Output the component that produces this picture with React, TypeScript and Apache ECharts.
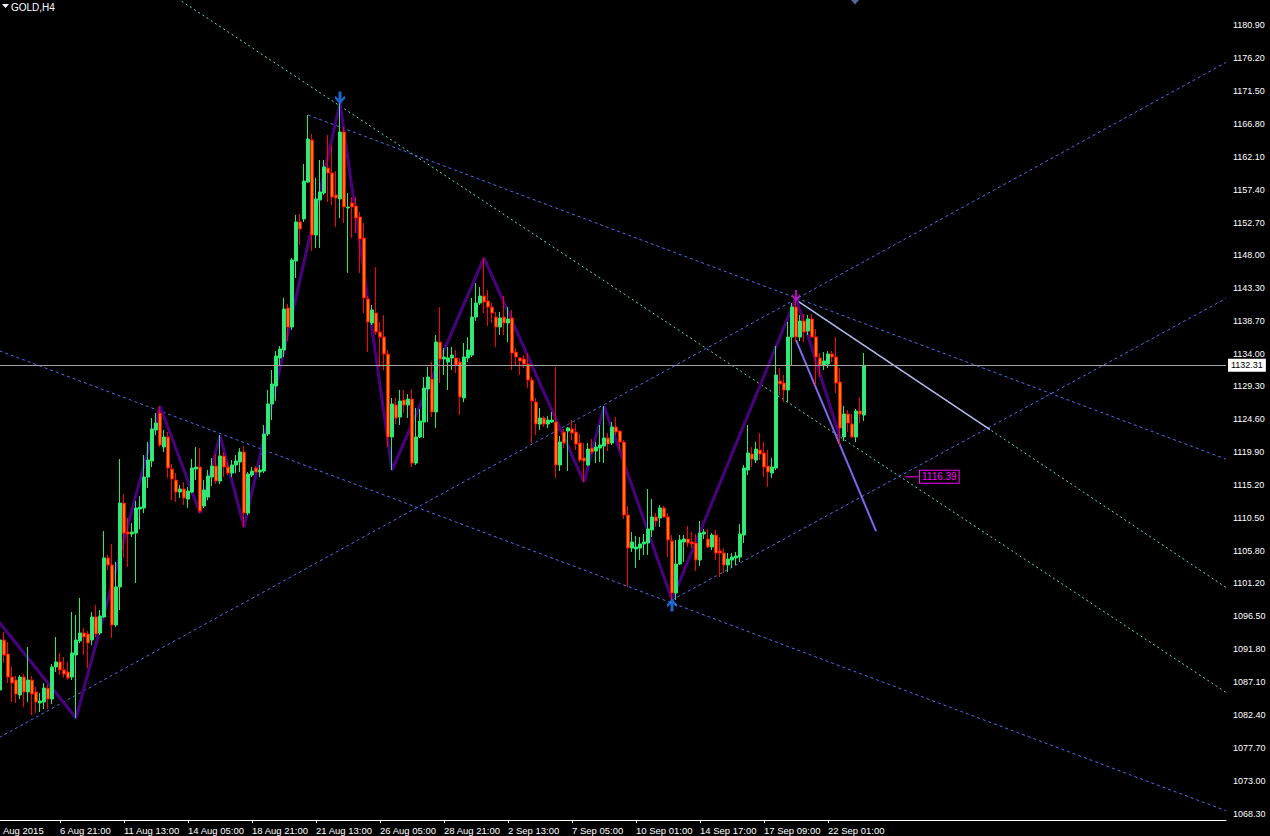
import React, { useEffect, useRef } from "react";
import * as echarts from "echarts";

// ---------- DATA (GOLD, H4) ----------
const opens = [
  1095.24, 1085.96, 1093.10, 1091.10, 1087.81, 1087.39, 1085.25, 1087.81, 1085.67, 1087.39,
  1085.67, 1084.10, 1084.24, 1086.24, 1084.67, 1089.24, 1089.96, 1088.81, 1088.53, 1087.81,
  1090.96, 1092.96, 1094.10, 1093.96, 1093.10, 1096.38, 1094.10, 1096.38, 1104.81, 1103.81,
  1095.24, 1100.67, 1112.65, 1108.51, 1108.23, 1108.37, 1111.79, 1111.94, 1116.36, 1118.65,
  1123.08, 1125.50, 1120.65, 1122.08, 1117.51, 1115.93, 1114.22, 1114.65, 1113.22, 1114.22,
  1117.51, 1117.79, 1112.22, 1113.51, 1116.36, 1117.93, 1115.79, 1119.36, 1117.79, 1116.93,
  1118.08, 1118.51, 1119.93, 1111.22, 1116.65, 1117.65, 1117.08, 1117.22, 1122.50, 1126.79,
  1129.36, 1133.36, 1134.50, 1140.50, 1137.78, 1147.21, 1152.78, 1153.21, 1158.48, 1164.48,
  1150.92, 1155.92, 1156.92, 1160.48, 1159.77, 1156.63, 1156.06, 1165.62, 1154.78, 1155.49,
  1155.06, 1153.49, 1150.49, 1141.78, 1138.36, 1139.78, 1137.07, 1136.35, 1133.93, 1122.08,
  1126.65, 1124.93, 1127.36, 1126.65, 1127.50, 1118.36, 1122.08, 1124.22, 1128.93, 1130.36,
  1125.65, 1135.64, 1133.21, 1132.78, 1133.36, 1133.36, 1132.78, 1127.65, 1133.36, 1133.78,
  1139.21, 1141.21, 1142.21, 1141.50, 1140.64, 1139.21, 1137.78, 1139.21, 1138.36, 1139.07,
  1134.21, 1133.36, 1133.21, 1132.50, 1130.21, 1127.07, 1123.93, 1124.79, 1123.93, 1124.22,
  1124.22, 1118.08, 1122.79, 1122.93, 1123.22, 1122.79, 1121.22, 1119.08, 1118.08, 1120.50,
  1120.07, 1120.50, 1120.79, 1121.93, 1121.22, 1123.50, 1122.93, 1121.36, 1110.94, 1106.23,
  1106.09, 1106.23, 1106.81, 1106.95, 1108.80, 1110.66, 1110.52, 1111.94, 1110.66, 1107.23,
  1099.81, 1103.95, 1107.09, 1107.52, 1107.09, 1106.95, 1104.52, 1108.23, 1107.52, 1106.38,
  1108.09, 1105.81, 1105.52, 1103.81, 1104.52, 1104.81, 1104.95, 1108.09, 1117.36, 1119.65,
  1118.79, 1120.22, 1119.79, 1117.93, 1116.93, 1117.65, 1130.07, 1129.79, 1128.79, 1136.35,
  1140.64, 1136.35, 1138.64, 1137.21, 1138.93, 1136.35, 1133.36, 1132.35, 1132.50, 1133.93,
  1133.50, 1129.93, 1122.08, 1125.36, 1123.93, 1122.08, 1125.79, 1125.22,
];
const highs = [
  1096.24, 1094.53, 1094.24, 1092.81, 1089.24, 1087.96, 1088.10, 1088.24, 1092.10, 1087.96,
  1086.39, 1085.53, 1086.96, 1086.67, 1089.67, 1093.53, 1091.24, 1090.67, 1089.96, 1097.10,
  1096.67, 1099.10, 1094.81, 1094.38, 1097.10, 1098.10, 1097.38, 1108.66, 1105.24, 1106.81,
  1104.24, 1118.93, 1113.94, 1110.51, 1109.79, 1112.94, 1113.65, 1119.51, 1121.36, 1124.79,
  1125.50, 1126.50, 1123.08, 1122.79, 1118.22, 1116.93, 1115.22, 1115.65, 1114.94, 1118.93,
  1120.65, 1120.50, 1115.93, 1117.36, 1119.08, 1119.65, 1122.36, 1119.93, 1118.51, 1118.79,
  1119.51, 1120.50, 1120.79, 1117.08, 1117.79, 1117.93, 1118.08, 1123.79, 1128.79, 1131.65,
  1134.35, 1135.07, 1141.93, 1141.07, 1147.64, 1153.78, 1153.92, 1161.05, 1168.05, 1165.34,
  1159.06, 1161.63, 1161.63, 1165.19, 1163.77, 1160.06, 1169.76, 1166.33, 1156.92, 1156.35,
  1156.35, 1154.20, 1152.63, 1142.21, 1140.93, 1146.35, 1138.50, 1139.50, 1134.50, 1127.65,
  1127.65, 1128.79, 1128.79, 1128.21, 1128.93, 1126.22, 1126.08, 1130.64, 1132.07, 1132.78,
  1136.64, 1140.64, 1134.78, 1134.93, 1134.93, 1134.50, 1133.36, 1135.50, 1136.35, 1141.93,
  1144.07, 1143.50, 1147.64, 1143.07, 1141.21, 1139.93, 1139.93, 1142.21, 1140.64, 1140.21,
  1134.78, 1133.50, 1133.78, 1134.07, 1130.64, 1127.65, 1126.22, 1125.07, 1125.07, 1125.65,
  1132.07, 1122.22, 1123.22, 1123.50, 1124.50, 1123.93, 1122.50, 1121.22, 1121.22, 1121.79,
  1121.36, 1123.79, 1126.50, 1122.65, 1124.22, 1124.93, 1123.08, 1121.64, 1112.23, 1108.51,
  1107.95, 1107.80, 1108.23, 1114.65, 1113.22, 1111.23, 1112.37, 1112.23, 1111.23, 1108.09,
  1107.38, 1108.09, 1108.09, 1109.37, 1108.51, 1108.23, 1110.09, 1108.94, 1108.94, 1108.37,
  1108.80, 1107.80, 1106.23, 1105.52, 1105.52, 1105.66, 1109.66, 1118.08, 1123.79, 1120.65,
  1121.36, 1122.65, 1121.36, 1120.22, 1119.08, 1135.07, 1131.93, 1130.93, 1138.50, 1141.21,
  1141.93, 1139.50, 1139.64, 1139.50, 1139.64, 1137.50, 1134.07, 1134.21, 1134.35, 1134.35,
  1136.35, 1131.93, 1126.50, 1125.93, 1125.36, 1126.07, 1127.79, 1134.07,
];
const lows = [
  1091.67, 1085.67, 1089.81, 1086.96, 1084.24, 1084.10, 1084.67, 1083.53, 1084.24, 1082.39,
  1082.67, 1082.82, 1083.24, 1083.24, 1083.96, 1088.53, 1088.10, 1087.67, 1087.39, 1087.39,
  1081.96, 1092.67, 1090.96, 1089.10, 1092.38, 1093.53, 1093.81, 1096.24, 1103.09, 1093.38,
  1094.95, 1097.38, 1104.81, 1103.52, 1107.80, 1101.24, 1108.94, 1111.22, 1114.79, 1117.79,
  1122.36, 1120.65, 1119.93, 1116.22, 1113.08, 1112.79, 1113.37, 1112.37, 1111.94, 1114.08,
  1115.93, 1111.22, 1111.94, 1113.08, 1115.08, 1115.36, 1115.36, 1116.36, 1116.65, 1116.36,
  1116.93, 1117.08, 1109.22, 1110.94, 1116.36, 1116.93, 1116.36, 1116.93, 1122.22, 1124.50,
  1127.22, 1132.21, 1133.50, 1135.78, 1137.36, 1144.78, 1149.50, 1152.78, 1158.34, 1148.64,
  1149.07, 1149.07, 1156.63, 1155.63, 1155.20, 1152.06, 1153.35, 1152.63, 1145.50, 1150.49,
  1151.21, 1145.50, 1139.78, 1134.21, 1138.07, 1136.64, 1132.07, 1131.64, 1120.65, 1117.36,
  1123.93, 1123.79, 1125.50, 1124.79, 1117.79, 1118.08, 1121.93, 1121.93, 1124.22, 1124.93,
  1123.36, 1129.79, 1130.93, 1128.79, 1131.64, 1131.21, 1125.22, 1127.07, 1132.78, 1133.50,
  1138.64, 1140.93, 1139.78, 1137.92, 1138.36, 1134.93, 1136.64, 1136.64, 1135.64, 1131.64,
  1132.35, 1130.93, 1131.93, 1129.07, 1121.22, 1122.36, 1123.08, 1123.50, 1123.36, 1124.08,
  1116.22, 1117.22, 1120.50, 1117.22, 1121.64, 1120.22, 1118.51, 1115.65, 1117.93, 1119.65,
  1118.36, 1118.51, 1118.36, 1120.07, 1120.93, 1122.36, 1120.22, 1110.37, 1100.67, 1105.66,
  1103.38, 1104.52, 1105.24, 1105.24, 1107.80, 1109.23, 1109.23, 1110.52, 1104.95, 1098.81,
  1098.81, 1103.81, 1104.24, 1106.38, 1106.23, 1102.95, 1103.66, 1107.52, 1106.23, 1105.95,
  1104.52, 1102.09, 1102.66, 1102.81, 1103.38, 1103.81, 1104.24, 1106.95, 1116.65, 1117.79,
  1118.36, 1118.79, 1116.36, 1114.94, 1116.22, 1117.36, 1128.07, 1127.07, 1127.07, 1132.21,
  1135.64, 1135.78, 1135.64, 1136.64, 1136.21, 1129.50, 1130.64, 1131.64, 1131.93, 1132.78,
  1128.36, 1120.93, 1121.50, 1122.79, 1121.93, 1121.36, 1124.08, 1124.36,
];
const closes = [
  1092.38, 1093.10, 1090.96, 1087.81, 1086.96, 1085.39, 1087.81, 1085.67, 1087.39, 1085.39,
  1084.24, 1084.39, 1086.24, 1084.67, 1089.24, 1089.96, 1088.81, 1088.24, 1087.67, 1091.24,
  1093.10, 1094.10, 1093.53, 1092.67, 1096.38, 1093.96, 1096.52, 1104.81, 1103.81, 1095.24,
  1100.67, 1112.65, 1108.37, 1108.23, 1108.51, 1111.94, 1112.08, 1116.36, 1118.79, 1123.22,
  1124.08, 1120.93, 1122.08, 1117.65, 1116.08, 1114.22, 1114.65, 1113.37, 1114.36, 1117.65,
  1117.79, 1111.51, 1114.51, 1116.51, 1117.93, 1115.79, 1119.36, 1117.79, 1116.93, 1118.08,
  1118.65, 1119.93, 1111.22, 1116.79, 1117.22, 1117.08, 1117.36, 1122.50, 1126.79, 1129.65,
  1133.64, 1134.64, 1140.35, 1137.78, 1147.35, 1152.78, 1151.78, 1158.62, 1164.62, 1150.92,
  1156.06, 1157.06, 1160.63, 1159.77, 1156.34, 1156.20, 1165.62, 1154.92, 1154.92, 1154.92,
  1153.35, 1150.35, 1141.93, 1138.50, 1140.21, 1137.07, 1136.35, 1133.93, 1122.08, 1126.79,
  1124.79, 1127.22, 1126.65, 1127.50, 1118.36, 1122.08, 1124.36, 1129.07, 1130.64, 1125.65,
  1135.64, 1133.21, 1133.50, 1133.36, 1133.78, 1132.35, 1127.79, 1133.50, 1134.50, 1139.21,
  1141.21, 1142.21, 1141.35, 1140.64, 1139.78, 1137.78, 1139.07, 1138.36, 1138.93, 1134.07,
  1133.50, 1132.93, 1132.50, 1130.21, 1127.22, 1123.93, 1124.79, 1123.93, 1124.50, 1124.50,
  1118.08, 1121.36, 1121.22, 1123.36, 1122.65, 1121.07, 1118.79, 1118.65, 1120.36, 1119.93,
  1120.65, 1120.93, 1121.93, 1121.07, 1123.50, 1122.79, 1121.36, 1110.94, 1106.23, 1107.09,
  1106.38, 1106.81, 1107.09, 1108.94, 1110.66, 1110.09, 1111.94, 1110.66, 1107.38, 1099.81,
  1103.95, 1107.38, 1107.52, 1106.95, 1106.81, 1104.52, 1108.37, 1108.51, 1106.38, 1108.09,
  1105.52, 1105.52, 1103.81, 1104.66, 1104.95, 1105.09, 1108.23, 1117.65, 1119.79, 1118.93,
  1120.36, 1119.65, 1117.79, 1117.08, 1117.79, 1130.93, 1129.65, 1128.79, 1136.35, 1140.64,
  1136.35, 1138.64, 1137.07, 1138.93, 1136.35, 1133.50, 1132.35, 1132.93, 1133.93, 1133.50,
  1129.79, 1123.36, 1125.36, 1124.08, 1122.08, 1125.79, 1125.36, 1132.31,
];

// price scale tick labels (as shown on the right axis)
const priceTicks = [
  1068.30, 1073.00, 1077.70, 1082.40, 1087.10, 1091.80, 1096.50, 1101.20, 1105.80,
  1110.50, 1115.20, 1119.90, 1124.60, 1129.30, 1134.00, 1138.70, 1143.30, 1148.00,
  1152.70, 1157.40, 1162.10, 1166.80, 1171.50, 1176.20, 1180.90,
];
const priceMin = 1067.40;
const priceMax = 1184.47;
const bidPrice = 1132.31;
const levelPrice = 1116.39;

// ZigZag pivots (bar index, price)
const zigzagIndex = [0, 20, 41, 51, 56, 62, 86, 99, 122, 147, 152, 169, 200, 211];
const zigzagPrice = [1096.2, 1081.96, 1126.5, 1111.22, 1122.36, 1109.22, 1169.76, 1117.36, 1147.64, 1115.65, 1126.5, 1098.81, 1141.93, 1122.0];

// trend line anchors: [bar index, price]
const upperChannel = [[78, 1168.05], [200, 1141.93]]; // ray from first anchor
const lowerChannel = [[1, 1134.36], [169, 1098.38]]; // infinite
const risingLine = [[1, 1079.25], [200, 1141.78]]; // infinite
const risingParallel = [[169, 1098.81], [300, 1139.53]]; // ray
const fanLineA = [[86, 1169.34], [200, 1126.25]]; // infinite
const fanLineB = [[200, 1141.64], [300, 1103.47]]; // ray
const fanSegment = [[200, 1141.64], [248.5, 1123.13]]; // segment
const projection = [[200, 1135.92], [220, 1108.65]]; // segment
const levelMarker = [[227.25, levelPrice], [230.5, levelPrice]];

// arrows
const peakArrowBars = [86];
const troughArrowBars = [169];
const lastPeakArrowBars = [200];
const topMarkerBar = 214.75;

// time axis
const MONTHS = ["Jan", "Feb", "Mar", "Apr", "May", "Jun", "Jul", "Aug", "Sep", "Oct", "Nov", "Dec"];
const BAR_HOURS = [1, 5, 9, 13, 17, 21];
const FIRST_BAR = Date.UTC(2015, 7, 4, 5);
const SKIPPED_BARS = [Date.UTC(2015, 8, 7, 21)];
const TOTAL_SLOTS = 308;

function buildCategories(n: number): string[] {
  const out: string[] = [];
  let t = Date.UTC(2015, 7, 4, 0);
  while (out.length < n) {
    const dow = new Date(t).getUTCDay();
    if (dow !== 0 && dow !== 6) {
      for (const h of BAR_HOURS) {
        const ts = t + h * 3600000;
        if (ts < FIRST_BAR || SKIPPED_BARS.includes(ts)) continue;
        if (out.length >= n) break;
        const d = new Date(ts);
        const head = `${d.getUTCDate()} ${MONTHS[d.getUTCMonth()]}`;
        out.push(out.length === 0 ? `${head} ${d.getUTCFullYear()}` : `${head} ${String(h).padStart(2, "0")}:00`);
      }
    }
    t += 86400000;
  }
  return out;
}

const FONT = "'Liberation Sans', Arial, sans-serif";
const SHIFT = 6; // canvas starts slightly left of the page so the first bar is half cut off

function lineThrough(pts: number[][], mode: "full" | "ray" | "segment", xMax: number): number[][] {
  const [x1, p1] = pts[0];
  const [x2, p2] = pts[1];
  if (mode === "segment") return [[x1, p1], [x2, p2]];
  const k = (p2 - p1) / (x2 - x1);
  const xs = mode === "full" ? -0.5 : x1;
  const xe = xMax;
  return [[xs, p1 + k * (xs - x1)], [xe, p1 + k * (xe - x1)]];
}

const ARROW_DOWN = "path://M4,0 H7 V7 L10,4 L11,6 L5.5,12 L0,6 L1,4 L4,7 Z";
const ARROW_UP = "path://M4,12 H7 V5 L10,8 L11,6 L5.5,0 L0,6 L1,8 L4,5 Z";

export default function App() {
  const ref = useRef<HTMLDivElement>(null);

  useEffect(() => {
    document.body.style.margin = "0";
    document.body.style.background = "#000";
    document.body.style.overflow = "hidden";
    if (!ref.current) return;
    const chart = echarts.init(ref.current, undefined, { renderer: "svg" });

    const nBars = opens.length;
    const categories = buildCategories(TOTAL_SLOTS);
    const xMax = TOTAL_SLOTS - 0.5;
    const candles = opens.map((o, i) => [o, closes[i], lows[i], highs[i]]);
    const zigzag = zigzagIndex.map((x, i) => [x, zigzagPrice[i]]);
    const showIdx = (i: number) => i % 16 === 0 && i < nBars;

    const blueDash = { color: "#4a72f0", width: 1, type: [3, 3] as number[] };
    const cyanDot = { color: "#4ee8cc", width: 1, type: [2, 3] as number[] };

    const mkLine = (name: string, data: number[][], lineStyle: any, z = 1) => ({
      name,
      type: "line",
      xAxisIndex: 1,
      yAxisIndex: 0,
      data,
      symbol: "none",
      silent: true,
      clip: true,
      z,
      lineStyle,
    });

    const option: any = {
      animation: false,
      backgroundColor: "#000",
      textStyle: { fontFamily: FONT },
      grid: { left: 0, top: 0, right: 44, height: 820, containLabel: false },
      xAxis: [
        {
          type: "category",
          data: categories,
          boundaryGap: true,
          axisLine: { show: true, lineStyle: { color: "#ffffff", width: 1 } },
          axisTick: { show: true, alignWithLabel: true, interval: showIdx, length: 3, lineStyle: { color: "#ffffff" } },
          axisLabel: {
            interval: showIdx,
            color: "#ffffff",
            fontSize: 9.5,
            fontFamily: FONT,
            align: "left",
            margin: 5,
            // the first label is partly hidden behind the left edge of the window, as in the terminal
            formatter: (v: string, i: number) => (i === 0 ? `{first|${v.split(" ").slice(1).join(" ")}}` : v),
            rich: { first: { color: "#ffffff", fontSize: 9.5, fontFamily: FONT, padding: [0, 0, 0, 7] } },
          },
          splitLine: { show: false },
        },
        { type: "value", min: -0.5, max: xMax, show: false },
      ],
      yAxis: [
        {
          type: "value",
          position: "right",
          min: priceMin,
          max: priceMax,
          axisLine: { show: true, lineStyle: { color: "#ffffff", width: 1 } },
          axisTick: { show: true, customValues: priceTicks, length: 3, lineStyle: { color: "#ffffff" } },
          axisLabel: {
            customValues: priceTicks,
            formatter: (v: number) => v.toFixed(2),
            color: "#ffffff",
            fontSize: 9,
            fontFamily: FONT,
            margin: 7,
          },
          splitLine: { show: false },
        },
      ],
      graphic: [
        { type: "polygon", shape: { points: [[2 + SHIFT, 4], [9 + SHIFT, 4], [5.5 + SHIFT, 8]] }, style: { fill: "#ffffff" } },
        { type: "text", x: 11 + SHIFT, y: 2, style: { text: "GOLD,H4", fill: "#ffffff", font: `10px ${FONT}` } },
      ],
      series: [
        mkLine("fanA", lineThrough(fanLineA, "full", xMax), cyanDot),
        mkLine("fanB", lineThrough(fanLineB, "ray", xMax), cyanDot),
        mkLine("upperChannel", lineThrough(upperChannel, "ray", xMax), blueDash),
        mkLine("lowerChannel", lineThrough(lowerChannel, "full", xMax), blueDash),
        mkLine("rising", lineThrough(risingLine, "full", xMax), blueDash),
        mkLine("risingParallel", lineThrough(risingParallel, "ray", xMax), blueDash),
        mkLine("fanSegment", lineThrough(fanSegment, "segment", xMax), { color: "#b0bcee", width: 1.5 }),
        {
          name: "zigzag",
          type: "line",
          xAxisIndex: 1,
          yAxisIndex: 0,
          data: zigzag,
          symbol: "none",
          silent: true,
          z: 2,
          lineStyle: { color: "#4b0082", width: 3 },
          markLine: {
            silent: true,
            symbol: "none",
            animation: false,
            lineStyle: { color: "#a0a0a0", width: 1, type: "solid" },
            label: {
              show: true,
              position: "end",
              formatter: bidPrice.toFixed(2),
              backgroundColor: "#ffffff",
              color: "#000000",
              fontSize: 9,
              fontFamily: FONT,
              padding: [2, 3, 2, 3],
              distance: 2,
            },
            data: [{ yAxis: bidPrice }],
          },
        },
        mkLine("projection", lineThrough(projection, "segment", xMax), { color: "#7b68ee", width: 2 }, 2),
        {
          name: "GOLD",
          type: "candlestick",
          xAxisIndex: 0,
          yAxisIndex: 0,
          data: candles,
          barWidth: 3,
          silent: true,
          z: 3,
          itemStyle: {
            color: "#3ee08a",
            color0: "#ff8c00",
            borderColor: "#22ee66",
            borderColor0: "#ff0000",
            borderWidth: 1,
          },
        },
        {
          name: "level",
          type: "line",
          xAxisIndex: 1,
          yAxisIndex: 0,
          data: levelMarker,
          symbol: "none",
          silent: true,
          z: 4,
          lineStyle: { color: "#ff00ff", width: 1 },
          endLabel: {
            show: true,
            formatter: levelPrice.toFixed(2),
            color: "#ff00ff",
            fontSize: 10,
            fontFamily: FONT,
            backgroundColor: "#000000",
            borderColor: "#ff00ff",
            borderWidth: 1,
            padding: [1, 2, 1, 2],
            distance: 2,
          },
        },
        {
          name: "peakArrows",
          type: "scatter",
          xAxisIndex: 1,
          yAxisIndex: 0,
          data: peakArrowBars.map((i) => [i, highs[i]]),
          symbol: ARROW_DOWN,
          symbolSize: [11, 13],
          symbolOffset: [0, -5],
          itemStyle: { color: "#1e7fff" },
          silent: true,
          z: 5,
        },
        {
          name: "troughArrows",
          type: "scatter",
          xAxisIndex: 1,
          yAxisIndex: 0,
          data: troughArrowBars.map((i) => [i, lows[i]]),
          symbol: ARROW_UP,
          symbolSize: [11, 13],
          symbolOffset: [0, 5],
          itemStyle: { color: "#1e7fff" },
          silent: true,
          z: 5,
        },
        {
          name: "lastPeakArrow",
          type: "scatter",
          xAxisIndex: 1,
          yAxisIndex: 0,
          data: lastPeakArrowBars.map((i) => [i, highs[i]]),
          symbol: ARROW_DOWN,
          symbolSize: [9, 12],
          symbolOffset: [0, -2],
          itemStyle: { color: "#c020c8" },
          silent: true,
          z: 5,
        },
        {
          name: "topMarker",
          type: "scatter",
          xAxisIndex: 1,
          yAxisIndex: 0,
          data: [[topMarkerBar, priceMax]],
          symbol: "diamond",
          symbolSize: [8, 9],
          itemStyle: { color: "#6a84b8" },
          silent: true,
          clip: false,
          z: 5,
        },
      ],
    };

    chart.setOption(option);
    return () => chart.dispose();
  }, []);

  return (
    <div
      ref={ref}
      style={{ position: "fixed", left: -SHIFT, top: 0, width: 1270 + SHIFT, height: 836, background: "#000" }}
    />
  );
}
